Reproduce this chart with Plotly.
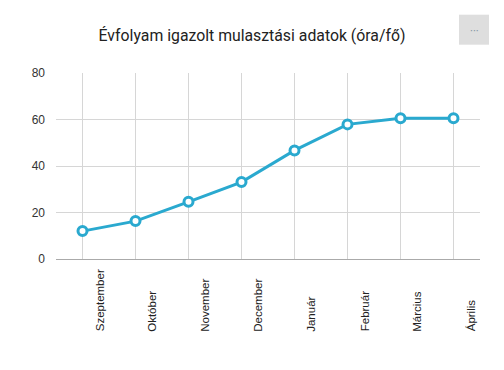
import plotly.graph_objects as go

months = ["Szeptember", "Október", "November", "December", "Január", "Február", "Március", "Április"]
values = [12, 16.3, 24.6, 33.1, 46.7, 57.9, 60.5, 60.5]
y_ticks = [0, 20, 40, 60, 80]
title = "Évfolyam igazolt mulasztási adatok (óra/fő)"

color = "#2aa9cf"
x_idx = list(range(len(months)))

fig = go.Figure()
fig.add_trace(go.Scatter(
    x=x_idx, y=values, mode="lines+markers",
    line=dict(color=color, width=3),
    marker=dict(size=9, color="white", line=dict(color=color, width=3)),
    hoverinfo="y",
))

annotations = []
for i, m in enumerate(months):
    annotations.append(dict(
        x=i, y=-0.402, xref="x", yref="paper", text=m, textangle=-90,
        showarrow=False, xanchor="center", yanchor="bottom", xshift=17,
        font=dict(family="Liberation Sans, Arial", size=11.5, color="#222"),
    ))
annotations.append(dict(
    x=(474 - 56) / 424, y=(259.3 - 30) / 186, xref="paper", yref="paper",
    text="···", showarrow=False, font=dict(size=11, color="#8a9aa8"),
    xanchor="center", yanchor="middle",
))

fig.update_layout(
    width=504, height=370,
    margin=dict(l=56, r=24, t=73.3, b=110.7),
    paper_bgcolor="white", plot_bgcolor="white",
    title=dict(text=title, x=0.5, xref="container", xanchor="center", y=1 - 35 / 370, yanchor="middle",
               font=dict(family="Roboto", size=15.8, color="#222")),
    showlegend=False,
    xaxis=dict(range=[-0.5, 7.5], tickvals=x_idx, showticklabels=False,
               showgrid=True, gridcolor="#d6d6d6", gridwidth=1, zeroline=False,
               showline=False, fixedrange=True),
    yaxis=dict(range=[0, 80], tickvals=y_ticks, showgrid=True, gridcolor="#d6d6d6",
               zeroline=True, zerolinecolor="#aaa", zerolinewidth=1,
               tickfont=dict(family="Liberation Sans, Arial", size=12, color="#333"),
               ticks="", ticklabelstandoff=10, fixedrange=True),
    annotations=annotations,
    shapes=[dict(type="rect", xref="paper", yref="paper",
                 x0=(459 - 56) / 424, x1=(489 - 56) / 424,
                 y0=(259.3 - 45) / 186, y1=(259.3 - 15) / 186,
                 fillcolor="#dedede", line=dict(width=0), layer="below")],
)

fig.write_html("out.html", config={"displayModeBar": False},
               post_script="document.body.style.margin='0';document.body.style.overflow='hidden';")
